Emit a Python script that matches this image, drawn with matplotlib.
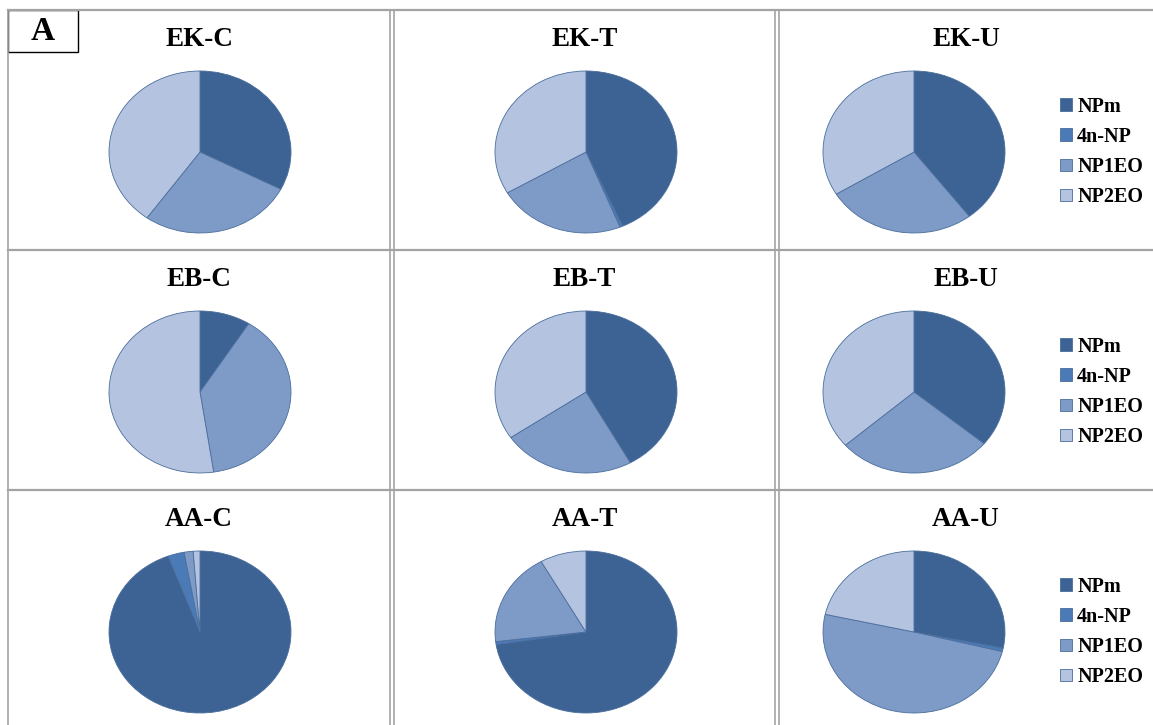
import matplotlib
matplotlib.use("Agg")
import matplotlib.pyplot as plt
from matplotlib.lines import Line2D
from matplotlib.patches import Rectangle

# share of each nonylphenol compound (%) per sample site
compounds = ["NPm", "4n-NP", "NP1EO", "NP2EO"]
colors = ["#3d6394", "#4a7bb7", "#7e9bc8", "#b4c4e0"]

panel_names = ["EK-C", "EK-T", "EK-U",
               "EB-C", "EB-T", "EB-U",
               "AA-C", "AA-T", "AA-U"]

ek_c = [32.6, 0.0, 27.3, 40.1]
ek_t = [43.4, 0.5, 22.7, 33.4]
ek_u = [39.6, 0.0, 26.7, 33.7]
eb_c = [9.0, 0.0, 38.6, 52.4]
eb_t = [41.9, 0.0, 23.6, 34.5]
eb_u = [36.0, 0.0, 27.6, 36.4]
aa_c = [94.3, 2.9, 1.6, 1.2]
aa_t = [72.5, 0.6, 18.7, 8.2]
aa_u = [28.2, 0.7, 49.6, 21.5]

shares = [ek_c, ek_t, ek_u, eb_c, eb_t, eb_u, aa_c, aa_t, aa_u]

W, H = 1153, 725
fig = plt.figure(figsize=(W / 100, H / 100), dpi=100)
fig.patch.set_facecolor("white")

serif = ["Liberation Serif", "DejaVu Serif"]

# panel geometry in pixels
col_left = [8, 394, 779]
col_right = [390, 775, W]
row_top = [10, 250, 490]
pie_cx = [200, 586, 914]
pie_cy = [152, 392, 632]
rx, ry = 91, 81


def fx(px):
    return px / W


def fy(py):
    return 1 - py / H


# grid of panel borders
grid = "#a3a3a3"
for y in row_top:
    fig.add_artist(Line2D([fx(8), 1], [fy(y), fy(y)], color=grid, lw=1.6))
fig.add_artist(Line2D([fx(8), fx(8)], [fy(10), 0], color=grid, lw=1.2))
for x in [390, 394, 775, 779]:
    fig.add_artist(Line2D([fx(x), fx(x)], [fy(10), 0], color=grid, lw=1.2))

for i, (name, vals) in enumerate(zip(panel_names, shares)):
    r, c = divmod(i, 3)
    cx, cy = pie_cx[c], pie_cy[r]
    ax = fig.add_axes([fx(cx - rx), fy(cy + ry), 2 * rx / W, 2 * ry / H])
    wedges, _ = ax.pie(vals, colors=colors, startangle=90, counterclock=False,
                       radius=1,
                       wedgeprops=dict(edgecolor="#4a6d9c", linewidth=0.6,
                                       clip_on=False))
    ax.set_aspect("auto")
    ax.set_xlim(-1, 1)
    ax.set_ylim(-1, 1)
    ax.axis("off")

    mid = (col_left[c] + col_right[c]) / 2
    fig.text(fx(mid), fy(row_top[r] + 29), name, ha="center", va="center",
             fontsize=19.5, fontweight="bold", family=serif)

    if c == 2:
        ax.legend(wedges, compounds, loc="center left",
                  bbox_to_anchor=(fx(1050), fy(cy)),
                  bbox_transform=fig.transFigure,
                  frameon=False, borderpad=0, handlelength=0.6,
                  handleheight=0.6, handletextpad=0.25, labelspacing=0.5,
                  prop=dict(family=serif, weight="bold", size=14.5))

# panel letter
fig.add_artist(Rectangle((fx(8), fy(52)), fx(78) - fx(8), fy(10) - fy(52),
                         transform=fig.transFigure, facecolor="white",
                         edgecolor="black", lw=1.0))
fig.text(fx(43), fy(32), "A", ha="center", va="center", fontsize=24,
         fontweight="bold", family=serif)

fig.savefig("out.png", dpi=100)
